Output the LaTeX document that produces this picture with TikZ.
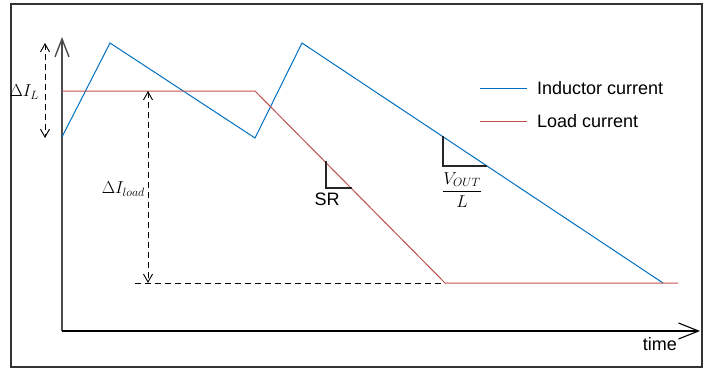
\documentclass[tikz,border=0pt]{standalone}
\usepackage{fontspec}
\setmainfont{Liberation Sans}
\usetikzlibrary{arrows.meta}

\definecolor{inducblue}{RGB}{0,112,192}
\definecolor{loadred}{RGB}{192,80,77}

\begin{document}
\begin{tikzpicture}[x=1pt, y=-1pt, font=\fontsize{18}{21}\selectfont,
            guide/.style={line width=0.9pt, dash pattern=on 6pt off 4pt},
            barb/.style={line width=0.9pt, {Straight Barb[length=8pt, width=9pt]}-{Straight Barb[length=8pt, width=9pt]}}]
            \useasboundingbox (0,0) rectangle (709,369);

            % Cadre
            \draw[black!80, line width=1.8pt] (11,4) rectangle (702,367);

            % Axes
            \coordinate (O) at (62,331);
            \coordinate (Ytop) at (62,37);
            \coordinate (Xend) at (700,331);
            \draw[black!70, line width=1.4pt, -{Straight Barb[length=18pt, width=14pt]}] (O) -- (Ytop);
            \draw[black, line width=1.1pt, -{Straight Barb[length=20pt, width=16pt]}] (O) -- (Xend);
            \node[anchor=north east, inner sep=0pt] at (677,337) {time};

            % Courant d'inductance
            \coordinate (B0) at (62,137);
            \coordinate (B1) at (110,43);
            \coordinate (B2) at (255,138);
            \coordinate (B3) at (302,43);
            \coordinate (B4) at (663,283);
            \draw[inducblue, line width=1pt] (B0) -- (B1) -- (B2) -- (B3) -- (B4);

            % Courant de charge
            \coordinate (R0) at (62,91);
            \coordinate (R1) at (255,91);
            \coordinate (R2) at (445,283);
            \coordinate (R3) at (678,283);
            \draw[loadred, line width=1pt] (R0) -- (R1) -- (R2) -- (R3);

            % Delta I_L
            \draw[guide, barb] (45,43) -- (45,138);
            \node[anchor=east, inner sep=1pt] at (40,92) {$\Delta I_L$};

            % Delta I_load
            \draw[guide, barb] (148,91) -- (148,283);
            \draw[guide] (135,283) -- (R2);
            \node[anchor=east, inner sep=1pt] at (146,189) {$\Delta I_{load}$};

            % Pente SR
            \draw[black!85, line width=1.1pt] (326,161) -- (326,188) -- (352,188);
            \node[inner sep=0pt] at (327,199) {SR};

            % Pente V_OUT/L
            \draw[black!85, line width=1.1pt] (443,136) -- (443,166) -- (487,166);
            \node[inner sep=0pt] at (462,190) {$\displaystyle\frac{V_{OUT}}{L}$};

            % Légende
            \draw[inducblue, line width=1pt] (480,88) -- (527,88);
            \node[anchor=west, inner sep=0pt] at (537,88) {Inductor current};
            \draw[loadred, line width=1pt] (480,121) -- (527,121);
            \node[anchor=west, inner sep=0pt] at (537,121) {Load current};
\end{tikzpicture}
\end{document}
